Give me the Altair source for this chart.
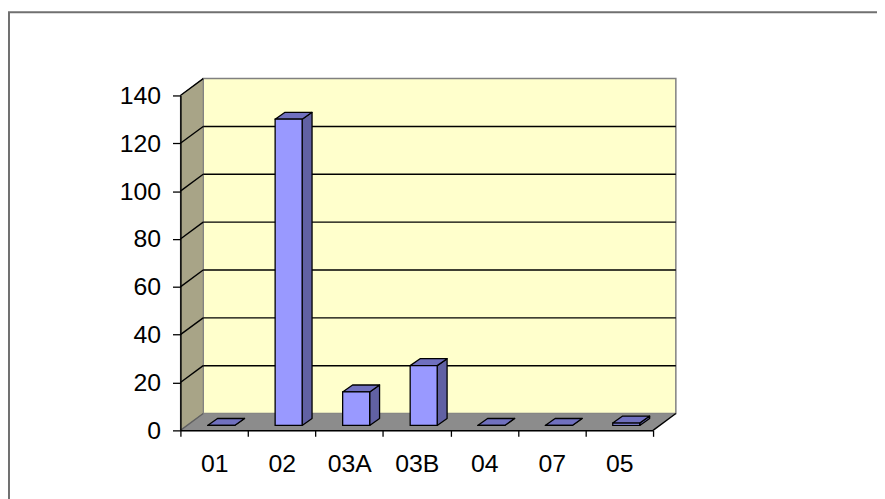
import altair as alt
import pandas as pd

# ---- data ----
categories = ["01", "02", "03A", "03B", "04", "07", "05"]
values = [0, 128, 14, 25, 0, 0, 1]
y_ticks = [0, 20, 40, 60, 80, 100, 120, 140]

# ---- geometry (plot area and 3D depth, in pixels) ----
W, H = 477, 338
N = len(categories)
YMAX = 140
xu = W / N          # px per x unit
yu = H / YMAX       # px per y unit
WALL_DX, WALL_DY = 23, 17
BAR_DX, BAR_DY = 7, 5
DEP_DX, DEP_DY = 10, 7
wall_dx, wall_dy = WALL_DX / xu, WALL_DY / yu
bar_dx, bar_dy = BAR_DX / xu, BAR_DY / yu
dep_dx, dep_dy = DEP_DX / xu, DEP_DY / yu
BL, BR = 0.3, 0.7

FONT = "Liberation Sans"
FS = 25
xs = alt.Scale(domain=[0, N], nice=False, zero=False)
ys = alt.Scale(domain=[0, YMAX], nice=False, zero=False)

label_expr = "[" + ",".join("'%s'" % c for c in categories) + ",''][datum.value]"
x_axis = alt.Axis(
    values=list(range(N + 1)), labelExpr=label_expr, labelOffset=xu / 2,
    tickSize=6, tickColor="black", tickWidth=1.3,
    domainColor="black", domainWidth=1.5,
    labelFont=FONT, labelFontSize=FS, labelColor="black", labelPadding=16,
    labelFlush=False, labelOverlap=False, labelBound=False,
    grid=False, title=None, zindex=1)
y_axis = alt.Axis(
    values=y_ticks, tickSize=8, tickColor="black", tickWidth=1.3,
    domainColor="black", domainWidth=1.5,
    labelFont=FONT, labelFontSize=FS, labelColor="black", labelPadding=12,
    labelFlush=False, labelOverlap=False, labelBound=False,
    grid=False, title=None, zindex=1)


def X(f):
    return alt.X(f, type="quantitative", scale=xs, axis=x_axis)


def Y(f):
    return alt.Y(f, type="quantitative", scale=ys, axis=y_axis)


# ---- frame ----
frame = alt.Chart(pd.DataFrame({"a": [0]})).mark_rect(
    fillOpacity=0, stroke="#707070", strokeWidth=2
).encode(x=alt.value(-173), x2=alt.value(1000), y=alt.value(-84), y2=alt.value(1000))

# ---- back wall ----
wall_df = pd.DataFrame({"x0": [0], "x1": [N], "y0": [0], "y1": [YMAX]})
wall = alt.Chart(wall_df).mark_rect(
    fill="#FFFFCC", stroke="#808080", strokeWidth=1.5,
    xOffset=WALL_DX, x2Offset=WALL_DX, yOffset=-WALL_DY, y2Offset=-WALL_DY
).encode(x=X("x0"), x2="x1", y=Y("y0"), y2="y1")

# ---- side wall ----
side_df = pd.DataFrame({"x": [0, wall_dx], "lo": [0, wall_dy], "hi": [YMAX, YMAX + wall_dy]})
side = alt.Chart(side_df).mark_area(
    fill="#A8A487", stroke="#808080", strokeWidth=1
).encode(x=X("x"), y=Y("lo"), y2="hi")

# ---- floor ----
floor_df = pd.DataFrame({
    "x": [0, wall_dx, N, N + wall_dx],
    "lo": [0, 0, 0, wall_dy],
    "hi": [0, wall_dy, wall_dy, wall_dy],
})
floor = alt.Chart(floor_df).mark_area(fill="#8C8C8C").encode(
    x=X("x"), y=Y("lo"), y2="hi")

# ---- gridlines on back wall ----
grid_df = pd.DataFrame({"v": y_ticks[1:-1]})
grid_df["x0"] = 0
grid_df["x1"] = N
grid = alt.Chart(grid_df).mark_rule(
    color="black", strokeWidth=1.4,
    xOffset=WALL_DX, x2Offset=WALL_DX, yOffset=-WALL_DY, y2Offset=-WALL_DY
).encode(x=X("x0"), x2="x1", y=Y("v"), y2="v")

# ---- diagonal gridlines on side wall ----
diag_df = pd.DataFrame({"v": y_ticks[1:]})
diag_df["x0"] = 0
diag = alt.Chart(diag_df).mark_rule(
    color="black", strokeWidth=1.4, x2Offset=WALL_DX, y2Offset=-WALL_DY
).encode(x=X("x0"), x2="x0", y=Y("v"), y2="v")

edge_df = pd.DataFrame({"x0": [0, N], "v": [0, 0], "c": ["#606060", "black"]})
edges = alt.Chart(edge_df).mark_rule(
    strokeWidth=1.4, x2Offset=WALL_DX, y2Offset=-WALL_DY
).encode(x=X("x0"), x2="x0", y=Y("v"), y2="v", color=alt.Color("c:N", scale=None))

# ---- bars ----
front_rows, top_rows, side_rows = [], [], []
for i, (c, v) in enumerate(zip(categories, values)):
    xl = i + BL + bar_dx
    xr = i + BR + bar_dx
    b = bar_dy
    t = v + bar_dy
    front_rows.append({"cat": c, "x0": xl, "x1": xr, "y0": b, "y1": t})
    top_rows += [
        {"cat": c, "x": xl, "lo": t, "hi": t},
        {"cat": c, "x": xl + dep_dx, "lo": t, "hi": t + dep_dy},
        {"cat": c, "x": xr, "lo": t, "hi": t + dep_dy},
        {"cat": c, "x": xr + dep_dx, "lo": t + dep_dy, "hi": t + dep_dy},
    ]
    side_rows += [
        {"cat": c, "x": xr, "lo": b, "hi": t},
        {"cat": c, "x": xr + dep_dx, "lo": b + dep_dy, "hi": t + dep_dy},
    ]

bar_side = alt.Chart(pd.DataFrame(side_rows)).mark_area(
    fill="#6161A3", stroke="black", strokeWidth=1.3, strokeJoin="round"
).encode(x=X("x"), y=Y("lo"), y2="hi", detail="cat:N")

bar_top = alt.Chart(pd.DataFrame(top_rows)).mark_area(
    fill="#7070BF", stroke="black", strokeWidth=1.3, strokeJoin="round"
).encode(x=X("x"), y=Y("lo"), y2="hi", detail="cat:N")

bar_front = alt.Chart(pd.DataFrame(front_rows)).mark_rect(
    fill="#9999FF", stroke="black", strokeWidth=1.3
).encode(x=X("x0"), x2="x1", y=Y("y0"), y2="y1")

chart = alt.layer(
    frame, wall, side, floor, grid, diag, edges, bar_side, bar_top, bar_front
).properties(
    width=W, height=H,
    autosize="none",
    padding={"left": 174, "top": 86, "right": 226, "bottom": 67},
).configure_view(strokeWidth=0).configure(background="white")

chart.save("out.html", embed_options={"renderer": "svg", "actions": False})
